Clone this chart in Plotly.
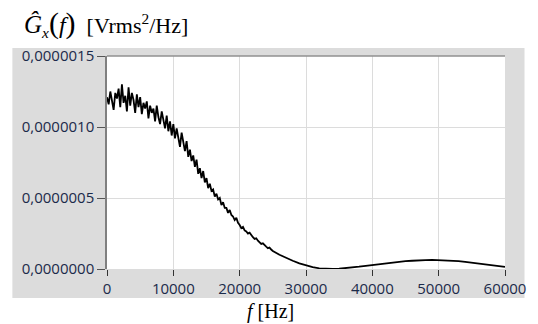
import plotly.graph_objects as go

# Frequency bins [Hz]
freq_dense = [i * 250 for i in range(101)]          # 0 .. 25000 Hz
freq_sparse = [26000 + i * 1000 for i in range(35)]  # 26000 .. 60000 Hz

# PSD estimate, in units of 1e-6 Vrms^2/Hz
psd_dense_e6 = [
    1.21, 1.16, 1.25, 1.18,
    1.12, 1.24, 1.20, 1.27,
    1.14, 1.30, 1.17, 1.22,
    1.11, 1.28, 1.15, 1.24,
    1.19, 1.10, 1.23, 1.14,
    1.21, 1.09, 1.17, 1.13,
    1.18, 1.06, 1.15, 1.10,
    1.13, 1.04, 1.15, 1.07,
    1.02, 1.11, 1.06, 0.99,
    1.08, 0.97, 1.04, 0.94,
    1.02, 0.92, 0.99, 0.93,
    0.86, 0.96, 0.89, 0.83,
    0.90, 0.79, 0.84, 0.76,
    0.80, 0.72, 0.77, 0.67,
    0.71, 0.64, 0.69, 0.61,
    0.64, 0.57, 0.60, 0.55,
    0.56, 0.51, 0.53, 0.49,
    0.50, 0.45, 0.47, 0.43,
    0.43, 0.395, 0.415, 0.38,
    0.37, 0.345, 0.36, 0.325,
    0.31, 0.288, 0.297, 0.272,
    0.264, 0.25, 0.256, 0.236,
    0.224, 0.212, 0.216, 0.199,
    0.188, 0.177, 0.181, 0.166,
    0.157, 0.147, 0.151, 0.137,
    0.127,
]
psd_sparse_e6 = [
    0.100, 0.078, 0.058, 0.040, 0.025, 0.013, 0.005, 0.002, 0.001, 0.002,
    0.005, 0.010, 0.016, 0.022, 0.028, 0.034, 0.040, 0.045, 0.050, 0.055,
    0.058, 0.062, 0.063, 0.064, 0.063, 0.061, 0.059, 0.055, 0.050, 0.045,
    0.038, 0.032, 0.026, 0.020, 0.015,
]

x_tickvals = [0, 10000, 20000, 30000, 40000, 50000, 60000]
x_ticktext = ["0", "10000", "20000", "30000", "40000", "50000", "60000"]
y_tickvals = [0.0, 0.5e-6, 1.0e-6, 1.5e-6]
y_ticktext = ["0,0000000", "0,0000005", "0,0000010", "0,0000015"]

freqs = freq_dense + freq_sparse
psd = [v * 1e-6 for v in psd_dense_e6 + psd_sparse_e6]

fig = go.Figure()
fig.add_trace(go.Scatter(x=freqs, y=psd, mode="lines",
                         line=dict(color="black", width=1.8), showlegend=False))

tick_font = dict(family="Open Sans", size=15, color="#1b2a4a")

fig.update_layout(
    width=538, height=324,
    margin=dict(l=107, r=23, t=56, b=55),
    paper_bgcolor="white",
    plot_bgcolor="white",
    xaxis=dict(range=[0, 60000], tickvals=x_tickvals, ticktext=x_ticktext,
               showgrid=True, gridcolor="#dcdcdc", gridwidth=1,
               zeroline=False, showline=False,
               ticks="outside", ticklen=6, tickcolor="#333333", tickwidth=1,
               tickfont=tick_font),
    yaxis=dict(range=[0, 1.5e-6], tickvals=y_tickvals, ticktext=y_ticktext,
               showgrid=True, gridcolor="#dcdcdc", gridwidth=1,
               zeroline=False, showline=True, linecolor="#808080", linewidth=1.5,
               ticks="outside", ticklen=8, tickcolor="#555555", tickwidth=1,
               tickfont=tick_font),
    shapes=[
        dict(type="rect", xref="paper", yref="paper", layer="below",
             x0=(10 - 107) / 408, x1=(535 - 107) / 408,
             y0=(269 - 298) / 213, y1=(269 - 48) / 213,
             fillcolor="#dcdcdc", line=dict(width=0)),
        dict(type="rect", xref="paper", yref="paper", layer="below",
             x0=0, x1=1, y0=0, y1=1,
             fillcolor="white", line=dict(width=0)),
        dict(type="line", xref="paper", yref="paper",
             x0=0, x1=1, y0=1, y1=1,
             line=dict(color="#909090", width=1.5)),
    ],
    annotations=[
        dict(xref="paper", yref="paper", x=(20 - 107) / 408, y=(269 - 23) / 213,
             xanchor="left", yanchor="middle", showarrow=False,
             text="<i><span style='font-size:25px'>Ĝ</span></i><sub><i>x</i></sub>"
                  "<span style='font-size:30px'>(</span><i><span style='font-size:24px'>f</span></i>"
                  "<span style='font-size:30px'>)</span>  [Vrms<sup>2</sup>/Hz]",
             font=dict(family="Liberation Serif", size=22, color="black")),
        dict(xref="paper", yref="paper", x=(275 - 107) / 408, y=(269 - 311) / 213,
             xanchor="center", yanchor="middle", showarrow=False,
             text="<i>f</i> [Hz]",
             font=dict(family="Liberation Serif", size=20, color="black")),
    ],
)

fig.write_html("out.html")
